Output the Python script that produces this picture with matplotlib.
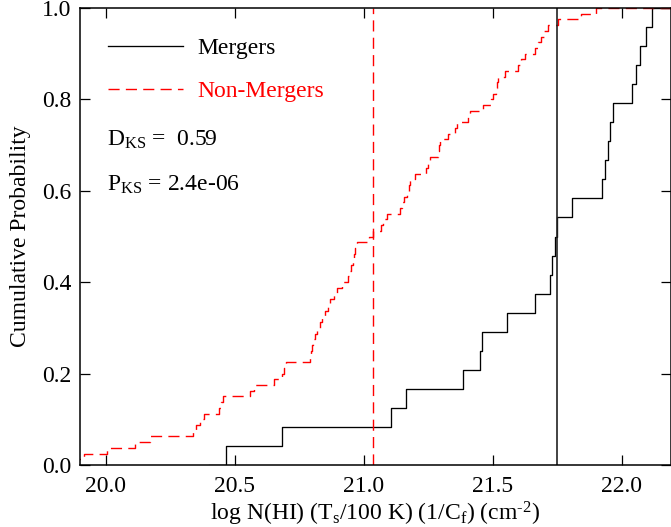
"""Cumulative distributions of HI column density for merger and non-merger samples."""

import numpy as np
import matplotlib
matplotlib.use("Agg")
import matplotlib.pyplot as plt

# log N(HI) (Ts/100 K)(1/Cf) for each sample
mergers = [
    20.465, 20.684, 21.105, 21.164, 21.385, 21.450, 21.456, 21.555,
    21.663, 21.720, 21.730, 21.740, 21.749, 21.808, 21.922, 21.935,
    21.945, 21.955, 21.967, 22.040, 22.055, 22.070, 22.093, 22.117,
]
non_mergers = [
    19.880, 19.915, 20.005, 20.112, 20.170, 20.337, 20.350, 20.364,
    20.380, 20.438, 20.446, 20.453, 20.558, 20.574, 20.651, 20.682,
    20.690, 20.698, 20.791, 20.797, 20.800, 20.804, 20.812, 20.820,
    20.829, 20.839, 20.849, 20.860, 20.868, 20.884, 20.895, 20.915,
    20.938, 20.946, 20.952, 20.957, 20.961, 20.967, 20.972, 21.020,
    21.036, 21.066, 21.074, 21.088, 21.140, 21.147, 21.155, 21.166,
    21.173, 21.178, 21.198, 21.240, 21.248, 21.256, 21.287, 21.291,
    21.295, 21.326, 21.353, 21.360, 21.403, 21.411, 21.461, 21.494,
    21.500, 21.512, 21.516, 21.519, 21.547, 21.597, 21.610, 21.624,
    21.663, 21.674, 21.686, 21.698, 21.713, 21.752, 21.841, 21.899,
]
d_ks = 0.59
p_ks = 2.4e-06

plt.rcParams["font.family"] = ["Liberation Serif", "DejaVu Serif"]
plt.rcParams["mathtext.fontset"] = "custom"
plt.rcParams["mathtext.rm"] = "Liberation Serif"
plt.rcParams["mathtext.it"] = "Liberation Serif"
FS = 17
DASH = (8, 4.5)


def cdf(values):
    x = np.sort(np.asarray(values, dtype=float))
    y = np.arange(1, len(x) + 1) / len(x)
    # start the curve from zero just before the first sample
    x = np.concatenate([[x[0] - 0.065], x, [x[-1] + 0.5]])
    y = np.concatenate([[0.0], y, [1.0]])
    return x, y


def idl_median(values):
    x = np.sort(values)
    return x[len(x) // 2]


fig = plt.figure(figsize=(6.71, 5.27), dpi=100)
ax = fig.add_axes([80 / 671, 1 - 465 / 527, 1 - 80 / 671, (465 - 8) / 527])

xm, ym = cdf(mergers)
xn, yn = cdf(non_mergers)
ax.plot(xm, ym, drawstyle="steps-post", color="black", lw=0.95, label="Mergers")
ax.plot(xn, yn, drawstyle="steps-post", color="red", lw=1.0,
        dashes=DASH, label="Non-Mergers")
ax.axvline(idl_median(mergers), color="#222222", lw=1.2)
ax.axvline(idl_median(non_mergers), color="red", lw=1.0, dashes=DASH)

ax.set_xlim(19.9, 22.19)
ax.set_ylim(0.0, 1.0)
ax.set_xticks([20.0, 20.5, 21.0, 21.5, 22.0])
ax.set_yticks([0.0, 0.2, 0.4, 0.6, 0.8, 1.0])
ax.xaxis.set_major_formatter(matplotlib.ticker.FormatStrFormatter("%.1f"))
ax.yaxis.set_major_formatter(matplotlib.ticker.FormatStrFormatter("%.1f"))
ax.tick_params(direction="in", length=7, width=0.9, top=True, right=True,
               labelsize=FS)
ax.tick_params(axis="x", pad=8)
ax.tick_params(axis="y", pad=6)
for sp in ax.spines.values():
    sp.set_linewidth(1.1)

ax.set_ylabel("Cumulative Probability", fontsize=FS, labelpad=8)
ax.set_xlabel("log N(HI) (T$_{\\rm s}$/100 K) (1/C$_{\\rm f}$) (cm$^{\\rm \u2010 2}$)",
              fontsize=FS, labelpad=2)

leg = ax.legend(loc="upper left", bbox_to_anchor=(0.047, 0.935), frameon=False,
                fontsize=FS, handlelength=3.2, handletextpad=0.6,
                labelspacing=0.9, borderpad=0, borderaxespad=0,
                labelcolor="linecolor")

ax.text(0.0457, 0.711, r"D$_{\rm KS}$ =  %.2f" % d_ks, transform=ax.transAxes,
        fontsize=FS, va="center", ha="left")
ax.text(0.0457, 0.613, r"P$_{\rm KS}$ = %.1e" % p_ks, transform=ax.transAxes,
        fontsize=FS, va="center", ha="left")

fig.savefig("out.png", dpi=100)
